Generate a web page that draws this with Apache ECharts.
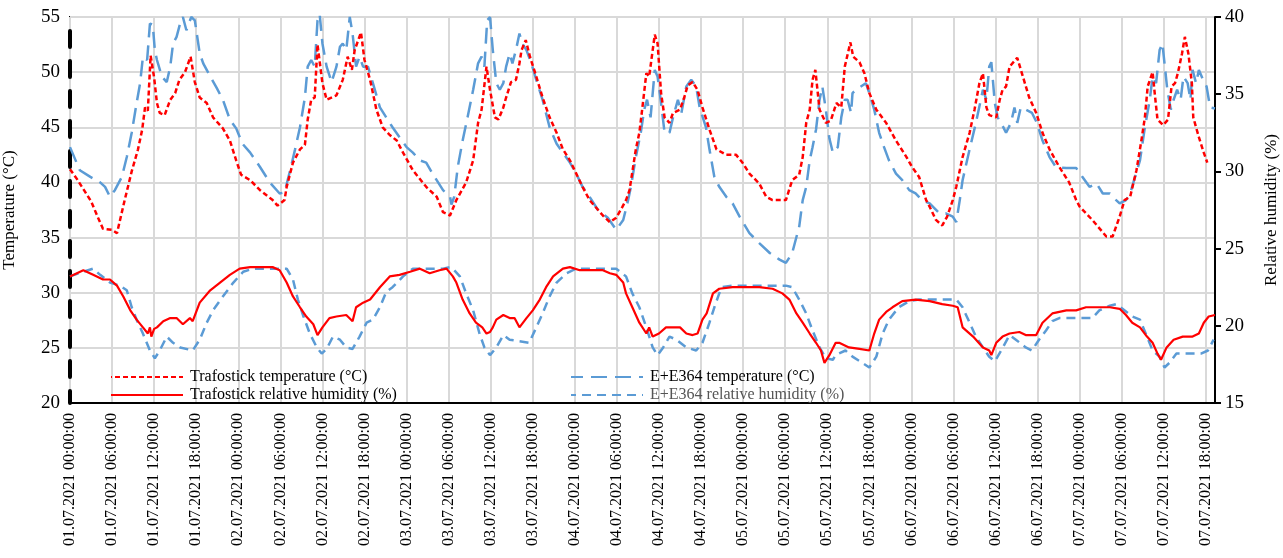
<!DOCTYPE html>
<html>
<head>
<meta charset="utf-8">
<script src="https://cdn.jsdelivr.net/npm/echarts@6/dist/echarts.min.js"></script>
<style>
  html, body { margin: 0; padding: 0; background: #fff; }
  #chart { width: 1283px; height: 558px; }
</style>
</head>
<body>
<div id="chart"></div>
<script>
// ---- Data (x = hours since 01.07.2021 00:00:00) ----
const tickHours = [0,6,12,18,24,30,36,42,48,54,60,66,72,78,84,90,96,102,108,114,120,126,132,138,144,150,156,162];

const trafoTemp = [[0,41.2],[1,40.3],[2,39.3],[3,38.3],[4,36.8],[4.7,35.8],[6,35.7],[6.7,35.4],[7.8,38.4],[8.8,41],[9.7,43],[10.3,44.8],[10.7,46.8],[11.1,46.5],[11.5,51.5],[12,49.5],[12.4,47.2],[12.8,46.3],[13.5,46.1],[14.3,47.5],[15,48.1],[15.6,49.3],[16.4,50],[17.2,51.4],[17.8,49.1],[18.5,47.7],[19.5,47.2],[20.4,45.9],[21.8,44.9],[22.8,43.8],[23.7,42],[24.4,40.7],[25.7,40.2],[27.1,39.3],[28.9,38.4],[29.6,37.9],[30.6,38.4],[30.9,39.6],[31.8,41.8],[32.8,43],[33.5,43.4],[33.9,45.7],[34.4,47.5],[34.9,47.7],[35.3,52.5],[36,49],[36.6,47.5],[38,47.9],[38.9,49.3],[39.6,51.4],[40.2,50.2],[40.6,52],[41.5,53.6],[42,51.1],[42.8,49.3],[43.7,46.6],[44.6,45],[45.6,44.3],[46.6,43.8],[47.5,42.7],[48.9,41.1],[50.8,39.6],[52.3,38.7],[53.2,37.3],[54.2,37],[55.1,38.4],[56.5,40],[57.5,42],[58.2,45.4],[58.7,46.6],[59.4,50.5],[59.9,48.4],[60.6,45.9],[61.1,45.7],[61.8,46.8],[62.2,47.7],[62.9,49.1],[63.6,49.3],[64.1,50.8],[64.4,52],[65,52.9],[65.6,51.4],[66.5,49.6],[67.4,47.7],[68.4,45.9],[69.4,44.5],[70.3,43],[71.3,42],[72.2,40.8],[73.1,39.6],[74.1,38.4],[76,37],[77,36.4],[77.9,36.8],[78.8,37.8],[79.3,38.4],[79.8,39.3],[80.7,43],[81.2,44.5],[81.6,46.6],[82.2,49.9],[82.6,49.6],[83.4,53.4],[83.8,52.6],[84.3,48.1],[84.8,45.9],[85.5,45.4],[86,46.3],[87,46.6],[87.6,47.7],[88.1,48.8],[88.8,49.1],[89.5,48.4],[90.2,46.8],[91.2,44.8],[92.2,43],[93.6,42.5],[95,42.5],[95.9,41.8],[96.9,40.8],[98.3,39.9],[99.3,38.7],[100.2,38.4],[102.1,38.4],[103,40.2],[104,40.7],[104.5,42.3],[105,45.4],[105.5,46.6],[105.9,49.3],[106.3,50.2],[106.9,46.6],[107.8,45.4],[108.5,45.6],[109.3,47.2],[110,46.8],[110.5,50.5],[111.3,52.7],[111.7,51.4],[112.6,50.9],[113.3,49.9],[114,48.1],[115,46.6],[116.4,45.4],[117.8,43.8],[119.3,42.3],[120.1,41.4],[121.1,40.5],[122.1,38.4],[122.6,37.8],[123.5,36.6],[124.4,36.1],[125.1,36.9],[125.9,38.4],[126.4,39.6],[127.3,42.3],[128.3,44.5],[129,46.6],[129.7,49],[130.2,49.9],[130.7,46.8],[131.1,46.1],[132.1,45.9],[132.6,47.5],[133,48.4],[133.5,48.7],[134,50.5],[135.1,51.3],[135.9,49.6],[136.8,47.7],[137.8,46.3],[138.7,44.5],[139.7,43],[141.1,41.4],[142.5,40],[143.5,38.4],[144,37.8],[145.8,36.6],[147.8,35.1],[148.7,35.1],[149.7,36.9],[150.4,38.4],[151.2,38.7],[152.1,41.1],[152.8,43.8],[153.3,45.9],[153.7,48.7],[154.4,50],[154.7,48.1],[155.1,45.7],[155.9,45.2],[156.6,45.7],[157.1,48.7],[157.6,49],[158,49.9],[158.6,51.7],[159,53.2],[159.5,51.7],[160,49],[160.2,45.9],[161,44.1],[161.7,42.7],[162.2,41.8]];

const trafoRH = [[0,23.2],[1.9,23.6],[3.3,23.3],[4.7,23],[5.7,23],[6.7,22.6],[7.6,21.9],[8.6,21],[9.5,20.4],[10.4,19.9],[11.1,19.5],[11.4,19.9],[11.6,19.3],[12,19.8],[12.4,19.9],[13.3,20.3],[14.3,20.5],[15.2,20.5],[16.1,20.1],[17.1,20.5],[17.5,20.3],[18.5,21.5],[20,22.3],[21.4,22.8],[22.8,23.3],[24.2,23.7],[25.7,23.8],[27.1,23.8],[28.9,23.8],[29.9,23.6],[30.9,22.8],[31.8,21.9],[32.8,21.2],[33.7,20.6],[34.7,20.1],[35.3,19.4],[36,19.9],[37,20.5],[38,20.6],[39.4,20.7],[40.3,20.3],[40.8,21.2],[41.8,21.5],[42.8,21.7],[44.2,22.5],[45.6,23.2],[47,23.3],[48.5,23.5],[49.9,23.7],[51.3,23.4],[52.7,23.6],[53.7,23.7],[54.6,23.2],[55.1,22.8],[56,21.7],[57,20.8],[57.9,20.2],[58.8,19.9],[59.4,19.5],[59.9,19.6],[60.3,19.9],[60.8,20.4],[61.8,20.7],[62.7,20.5],[63.4,20.5],[64.1,19.9],[65.1,20.5],[66,21],[67,21.7],[67.9,22.5],[68.9,23.2],[70.3,23.7],[71.3,23.8],[72.7,23.6],[74.6,23.6],[76,23.6],[77,23.4],[77.9,23.3],[78.9,22.8],[79.3,22.1],[80.2,21.2],[81.2,20.2],[82.2,19.5],[82.6,19.9],[83.1,19.3],[84,19.5],[85,19.9],[86,19.9],[87,19.9],[87.9,19.5],[88.8,19.4],[89.5,19.5],[90.2,20.4],[90.8,20.8],[91.7,22.1],[92.6,22.4],[94.5,22.5],[96.4,22.5],[98.3,22.5],[100.2,22.4],[101.6,22.1],[102.6,21.7],[103.6,20.8],[104.5,20.2],[105.5,19.5],[106.4,18.9],[107.1,18.4],[107.6,17.6],[108.3,18.1],[109.2,18.9],[109.7,18.9],[111.1,18.6],[112.6,18.5],[114,18.4],[114.7,19.5],[115.4,20.4],[116.4,20.9],[117.3,21.2],[118.7,21.6],[120.6,21.7],[122.6,21.6],[124.4,21.4],[125.9,21.3],[126.6,21.2],[127.3,19.9],[128.8,19.3],[130.2,18.6],[131.1,18.4],[131.4,18.1],[132.1,18.9],[133,19.3],[134,19.5],[135.4,19.6],[136.3,19.4],[137.8,19.4],[138.7,20.2],[140.1,20.8],[142.1,21],[143.5,21],[144.9,21.2],[146.4,21.2],[148.3,21.2],[149.7,21.1],[150.6,20.7],[151.5,20.2],[152.6,19.9],[153.6,19.3],[154.4,18.9],[155.1,18.2],[155.6,17.8],[156.4,18.6],[157.4,19.1],[158.7,19.3],[160.1,19.3],[161,19.5],[161.7,20.2],[162.4,20.6],[163.3,20.7]];

const eeTemp = [[0,43.2],[1.4,41.1],[2.9,40.5],[4.3,40],[5,39.6],[5.7,38.7],[6.4,39.3],[7.4,40.5],[8.1,42.3],[8.8,44.5],[9.5,47.2],[10,49],[10.4,51.4],[11,51.1],[11.4,54.4],[11.8,54.3],[12.1,52],[12.4,51.1],[13.1,49.6],[13.8,49.1],[14.3,50.5],[14.7,52.6],[15.2,53.2],[15.7,54.4],[16.1,55],[16.6,53.8],[17.3,55],[17.8,54.7],[18.5,51.7],[19,50.8],[20,49.6],[20.9,48.6],[21.8,47.5],[22.8,45.7],[23.7,44.9],[24.6,43.5],[25.7,42.7],[27.1,41.4],[28.5,40],[29.9,39],[30.6,39.1],[31.4,41.1],[32.1,43],[32.8,45],[33.5,47.7],[33.9,50.5],[34.4,51.1],[34.9,50.5],[35.3,54.7],[35.6,55.3],[36,52.6],[36.6,50.5],[37.3,49.1],[38,50.5],[38.5,52.3],[38.9,52.6],[39.4,52],[39.9,55],[40.3,53.5],[40.8,50.5],[41.3,51.4],[41.8,50.5],[42.5,50.5],[43.2,49],[44.2,46.8],[45.1,45.9],[46,45],[47,44.1],[48,43.2],[48.9,42.7],[49.9,42],[50.8,41.8],[51.7,40.8],[53.2,39.3],[54.2,38.7],[54.4,38],[54.8,38.7],[55.3,41.4],[56,43.8],[56.7,45.9],[57.5,48.4],[58.2,50.8],[58.7,51.4],[59.1,50.5],[59.5,54.7],[59.9,55],[60.3,52],[60.8,49],[61.3,48.4],[61.8,49],[62.2,50.5],[62.7,51.7],[63.1,50.8],[63.6,52],[64.1,53.5],[64.5,52.6],[65.1,52],[65.8,50.8],[66.5,49.3],[67.4,47.5],[68.4,45],[69.4,43.5],[70.3,42.7],[71.3,41.8],[72.2,40.8],[73.1,39.6],[74.1,38.7],[75.3,37.5],[76.7,36.8],[77.9,35.7],[78.9,36.6],[79.6,38.4],[80,39.6],[80.7,42.3],[81.4,44.5],[81.9,46.6],[82.3,47.5],[82.8,45.9],[83.4,50.2],[83.8,49.6],[84.3,47.2],[84.8,44.5],[85.5,44.5],[86,45.9],[86.7,47.5],[87.2,46.3],[87.9,48.7],[88.6,49.3],[89.3,48.7],[89.8,46.8],[90.7,45],[91.2,43],[91.9,40.5],[92.6,39.6],[93.6,38.7],[94.5,38.1],[95.5,36.9],[96.9,35.4],[98.3,34.5],[99.8,33.6],[101.2,33],[102.1,32.7],[103,33.6],[104,36],[104.5,38.4],[105,39.6],[105.5,42],[105.9,43.2],[106.4,44.8],[106.9,47.5],[107.3,48.7],[107.8,46.6],[108.3,44],[108.8,42.7],[109.5,43.2],[110,45.9],[110.5,47.5],[110.9,47.5],[111.4,46.3],[111.6,48.1],[112.1,48.4],[112.8,48.7],[113.5,49],[114,48.1],[114.7,46.6],[115.4,44.5],[116.1,43.2],[116.8,42],[117.8,40.8],[118.7,40.2],[119.7,39.3],[120.6,39],[121.5,38.4],[122.6,38.1],[124,37.2],[124.9,37.2],[125.9,36.9],[126.4,36.4],[126.9,38.4],[127.3,40.2],[128.3,43],[129.2,45.4],[130.2,48.4],[130.7,47.5],[131.1,50.5],[131.4,50.9],[131.9,47.2],[132.3,45.9],[132.8,45.4],[133.5,44.5],[134.2,45.4],[134.7,46.8],[135.1,45.4],[135.6,46.8],[136.3,46.6],[137.2,46.3],[137.9,45.4],[138.7,43.8],[139.7,42.3],[140.6,41.4],[142.1,41.3],[143.5,41.3],[144.4,40.5],[145.4,39.6],[146.4,39.9],[147.3,39],[148.3,39],[149.2,38.4],[149.7,38.1],[150.6,38.4],[151.2,39],[151.9,40.5],[152.6,42],[153.3,45],[154,47.5],[154.4,49.6],[154.9,49],[155.4,52],[155.8,52.6],[156.5,48.4],[157,46.6],[157.4,47.5],[157.9,48.4],[158.4,47.5],[158.8,49.6],[159.4,49],[159.8,47.5],[160.1,50.2],[160.6,49],[161,50.2],[161.6,49.3],[162.1,48.7],[162.6,46.8],[163.3,46.7]];

const eeRH = [[0,23.2],[1.9,23.5],[3.3,23.7],[4.3,23.3],[5.7,22.8],[7.1,22.6],[8.1,22.3],[8.8,21.2],[9.5,20.4],[10.4,19.5],[11.4,18.4],[12.1,17.9],[12.8,18.4],[13.8,19.3],[14.7,18.9],[15.7,18.6],[17.5,18.4],[18.5,19.1],[19.5,20.2],[20.4,21],[21.8,21.9],[23.3,22.8],[24.7,23.5],[26.1,23.7],[28.9,23.7],[30.9,23.7],[31.8,23],[32.5,21.7],[33.3,20.6],[34.2,19.5],[35.2,18.6],[35.9,18.2],[36.6,18.5],[37.5,19.3],[38.5,19.1],[39.4,18.6],[40.3,18.5],[41.3,19.3],[42.3,20.2],[43.2,20.4],[44.2,21.2],[45.1,22.2],[46,22.5],[47.5,23.2],[48.9,23.7],[53.2,23.7],[54.2,23.8],[54.6,23.7],[55.6,23.2],[56.5,22.1],[57.5,21],[58.4,19.5],[59.1,18.6],[59.9,18.1],[60.8,18.6],[61.8,19.4],[62.7,19.1],[64.1,19],[65.5,18.9],[66.5,19.9],[67.4,20.8],[68.4,21.9],[69.4,22.8],[70.8,23.4],[72.2,23.7],[77.9,23.7],[79.3,23.2],[80.2,22.1],[81.2,21.2],[82.2,19.9],[83.1,18.6],[83.8,18.1],[84.6,18.6],[85.5,19.3],[86.5,19.1],[87.9,18.6],[89.3,18.4],[90.2,18.9],[91.2,20.2],[91.9,21.2],[92.6,22.1],[93,22.5],[94.5,22.6],[102.1,22.6],[103,22.5],[104,21.7],[105,20.8],[105.9,19.7],[106.9,18.6],[107.8,17.9],[108.8,17.8],[109.2,18.1],[110.6,18.4],[111.6,18],[113,17.6],[114,17.3],[115,18],[115.9,19.5],[116.8,20.4],[118.2,21.2],[119.7,21.6],[121.1,21.7],[126.4,21.7],[127.3,21.2],[128.3,20.2],[129.2,19.3],[130.2,18.6],[131.1,18],[131.9,17.7],[132.8,18.4],[134,19.4],[134.9,19.1],[136.3,18.6],[137.2,18.4],[138.2,19.1],[139.2,19.7],[140.1,20.3],[141.1,20.5],[145.8,20.5],[146.8,21],[148.3,21.3],[149.2,21.4],[150.1,21.1],[151.5,20.6],[152.6,20.4],[153.6,19.3],[154.4,18.4],[155.4,18],[156.1,17.3],[156.8,17.6],[157.8,18.2],[161.3,18.2],[162.3,18.4],[163.1,19.1]];

const leftTicks = { min: 20, max: 55, step: 5 };
const rightTicks = { min: 15, max: 40, step: 5 };

// ---- Chart ----
const FONT = 'Liberation Serif, Times New Roman, serif';
const chart = echarts.init(document.getElementById('chart'), null, { renderer: 'canvas' });

function pad(n) { return (n < 10 ? '0' : '') + n; }
function hourLabel(v) {
  if (tickHours.indexOf(v) < 0) return '';
  const day = Math.floor(v / 24) + 1;
  const hr = v % 24;
  return pad(day) + '.07.2021 ' + pad(hr) + ':00:00';
}

const legendCommon = {
  orient: 'vertical', top: 364, itemWidth: 72, itemHeight: 14, itemGap: 2,
  itemStyle: { opacity: 0, borderWidth: 0 }
};

const option = {
  backgroundColor: '#fff',
  animation: false,
  textStyle: { fontFamily: FONT },
  grid: {
    left: 70, right: 68, top: 17, bottom: 155,
    containLabel: false, outerBoundsMode: 'none',
    show: true, borderColor: '#000', borderWidth: 2, backgroundColor: 'transparent'
  },
  legend: [
    Object.assign({}, legendCommon, {
      left: 105,
      textStyle: { fontFamily: FONT, fontSize: 16, color: '#000', padding: [0, 0, 0, 2] },
      data: ['Trafostick temperature (°C)', 'Trafostick relative humidity (%)']
    }),
    Object.assign({}, legendCommon, {
      left: 565,
      textStyle: { fontFamily: FONT, fontSize: 16, color: '#000', padding: [0, 0, 0, 2] },
      data: [
        { name: 'E+E364 temperature (°C)' },
        { name: 'E+E364 relative humidity (%)', textStyle: { color: '#555' } }
      ]
    })
  ],
  xAxis: {
    type: 'value', min: 0, max: 163.3, interval: 6,
    axisLine: { show: true, lineStyle: { color: '#000', width: 2 } },
    axisTick: { show: false },
    splitLine: { show: true, lineStyle: { color: '#d9d9d9', width: 2 } },
    axisLabel: {
      rotate: 90, margin: 10, fontFamily: FONT, fontSize: 16, color: '#000',
      formatter: hourLabel, showMaxLabel: true
    }
  },
  yAxis: [
    {
      type: 'value', min: leftTicks.min, max: leftTicks.max, interval: leftTicks.step,
      name: 'Temperature (°C)', nameLocation: 'middle', nameGap: 52, nameRotate: 90,
      nameTextStyle: { fontFamily: FONT, fontSize: 17, color: '#000' },
      axisLine: { show: true, lineStyle: { color: '#000', width: 4, type: [16, 14], dashOffset: 4 } },
      axisTick: { show: false },
      splitLine: { show: true, lineStyle: { color: '#d9d9d9', width: 2 } },
      axisLabel: { fontFamily: FONT, fontSize: 19, color: '#000', margin: 10 }
    },
    {
      type: 'value', min: rightTicks.min, max: rightTicks.max, interval: rightTicks.step,
      position: 'right',
      name: 'Relative humidity (%)', nameLocation: 'middle', nameGap: 48, nameRotate: 90,
      nameTextStyle: { fontFamily: FONT, fontSize: 17, color: '#000' },
      axisLine: { show: true, lineStyle: { color: '#000', width: 2 } },
      axisTick: { show: true, length: 6, lineStyle: { color: '#000', width: 2 } },
      splitLine: { show: false },
      axisLabel: { fontFamily: FONT, fontSize: 19, color: '#000', margin: 10 }
    }
  ],
  series: [
    {
      name: 'E+E364 temperature (°C)', type: 'line', yAxisIndex: 0, data: eeTemp,
      symbol: 'none', z: 2,
      lineStyle: { color: '#5B9BD5', width: 2.5, type: [16, 8] },
      itemStyle: { color: '#5B9BD5' }
    },
    {
      name: 'E+E364 relative humidity (%)', type: 'line', yAxisIndex: 1, data: eeRH,
      symbol: 'none', z: 2,
      lineStyle: { color: '#5B9BD5', width: 2.5, type: [9, 6] },
      itemStyle: { color: '#5B9BD5' }
    },
    {
      name: 'Trafostick temperature (°C)', type: 'line', yAxisIndex: 0, data: trafoTemp,
      symbol: 'none', z: 3,
      lineStyle: { color: '#FF0000', width: 2.5, type: [5, 3] },
      itemStyle: { color: '#FF0000' }
    },
    {
      name: 'Trafostick relative humidity (%)', type: 'line', yAxisIndex: 1, data: trafoRH,
      symbol: 'none', z: 3,
      lineStyle: { color: '#FF0000', width: 2.2, type: 'solid' },
      itemStyle: { color: '#FF0000' }
    }
  ]
};
chart.setOption(option);
</script>
</body>
</html>
